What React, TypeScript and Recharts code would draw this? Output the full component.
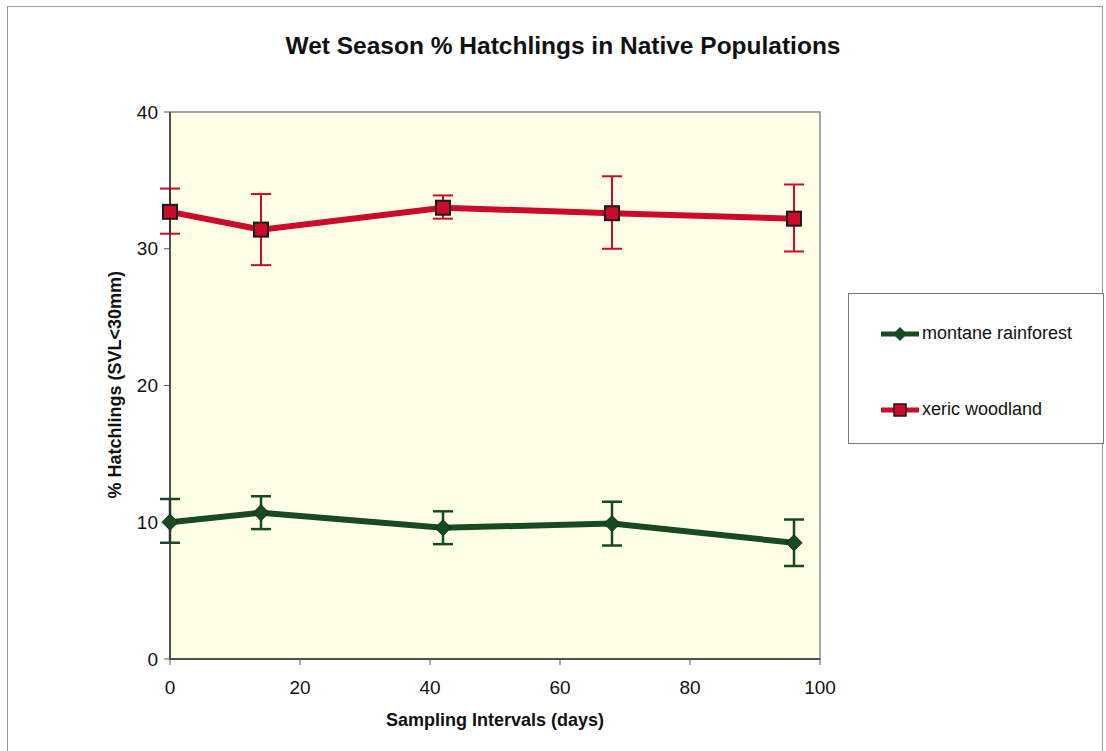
import React from "react";
import {
  ComposedChart,
  Line,
  XAxis,
  YAxis,
  ErrorBar,
  ReferenceArea,
} from "recharts";

const days = [0, 14, 42, 68, 96];
const montane = [10.0, 10.7, 9.6, 9.9, 8.5];
const montaneHigh = [11.7, 11.9, 10.8, 11.5, 10.2];
const montaneLow = [8.5, 9.5, 8.4, 8.3, 6.8];
const xeric = [32.7, 31.4, 33.0, 32.6, 32.2];
const xericHigh = [34.4, 34.0, 33.9, 35.3, 34.7];
const xericLow = [31.1, 28.8, 32.2, 30.0, 29.8];
const xTicks = [0, 20, 40, 60, 80, 100];
const yTicks = [0, 10, 20, 30, 40];

const FONT = "'Liberation Sans', Arial, sans-serif";
const GREEN = "#174a22";
const RED = "#cc0a2a";

const data = days.map((d, i) => ({
  day: d,
  montane: montane[i],
  montaneErr: [montane[i] - montaneLow[i], montaneHigh[i] - montane[i]],
  xeric: xeric[i],
  xericErr: [xeric[i] - xericLow[i], xericHigh[i] - xeric[i]],
}));

const Diamond = (props: any) => {
  const { cx, cy, index } = props;
  const s = 8;
  return (
    <path
      key={`d-${index}`}
      d={`M${cx},${cy - s} L${cx + s},${cy} L${cx},${cy + s} L${cx - s},${cy} Z`}
      fill={GREEN}
      stroke="#0b2a12"
      strokeWidth={1}
    />
  );
};

const Square = (props: any) => {
  const { cx, cy, index } = props;
  const s = 7;
  return (
    <rect
      key={`s-${index}`}
      x={cx - s}
      y={cy - s}
      width={s * 2}
      height={s * 2}
      fill={RED}
      stroke="#1a1a1a"
      strokeWidth={2}
    />
  );
};

const LegendBox = () => (
  <div
    style={{
      position: "absolute",
      left: 848,
      top: 293,
      width: 256,
      height: 151,
      border: "1px solid #777",
      background: "#fff",
      fontFamily: FONT,
      fontSize: 18,
      color: "#111",
      boxSizing: "border-box",
    }}
  >
    <div style={{ position: "absolute", left: 30, top: 29, display: "flex", alignItems: "center" }}>
      <svg width={42} height={20}>
        <line x1={2} y1={10} x2={40} y2={10} stroke={GREEN} strokeWidth={5} />
        <path d="M21,3 L28,10 L21,17 L14,10 Z" fill={GREEN} />
      </svg>
      <span style={{ marginLeft: 1 }}>montane rainforest</span>
    </div>
    <div style={{ position: "absolute", left: 30, top: 105, display: "flex", alignItems: "center" }}>
      <svg width={42} height={20}>
        <line x1={2} y1={10} x2={40} y2={10} stroke={RED} strokeWidth={5} />
        <rect x={15} y={4} width={12} height={12} fill={RED} stroke="#1a1a1a" strokeWidth={1.5} />
      </svg>
      <span style={{ marginLeft: 1 }}>xeric woodland</span>
    </div>
  </div>
);

export default function App() {
  return (
    <div style={{ position: "absolute", left: 0, top: 0, width: 1106, height: 751, background: "#fff" }}>
      <div
        style={{
          position: "absolute",
          left: 7,
          top: 6,
          width: 1096,
          height: 746,
          border: "1px solid #999",
          boxSizing: "border-box",
        }}
      />
      <div
        style={{
          position: "absolute",
          left: 0,
          top: 32,
          width: 1126,
          textAlign: "center",
          fontFamily: FONT,
          fontWeight: "bold",
          fontSize: 24.5,
          color: "#111",
        }}
      >
        Wet Season % Hatchlings in Native Populations
      </div>
      <ComposedChart
        width={1106}
        height={751}
        data={data}
        margin={{ top: 112, right: 286, bottom: 62, left: 110 }}
        style={{ position: "absolute", left: 0, top: 0 }}
      >
        <ReferenceArea
          x1={0}
          x2={100}
          y1={0}
          y2={40}
          fill="#ffffe8"
          fillOpacity={1}
          stroke="#888"
          strokeWidth={1.5}
          ifOverflow="extendDomain"
        />
        <XAxis
          dataKey="day"
          type="number"
          domain={[0, 100]}
          ticks={xTicks}
          axisLine={{ stroke: "#333", strokeWidth: 1.5 }}
          tickLine={{ stroke: "#555" }}
          tickSize={6}
          height={30}
          tick={{ fill: "#111", fontSize: 19, fontFamily: FONT, dy: 14 }}
          label={{
            value: "Sampling Intervals (days)",
            position: "insideBottom",
            dy: 42,
            style: { fontFamily: FONT, fontWeight: "bold", fontSize: 18, fill: "#111" },
          }}
        />
        <YAxis
          type="number"
          domain={[0, 40]}
          ticks={yTicks}
          width={60}
          axisLine={{ stroke: "#333", strokeWidth: 1.5 }}
          tickLine={{ stroke: "#555" }}
          tickSize={6}
          tick={{ fill: "#111", fontSize: 19, fontFamily: FONT, dx: -4 }}
          label={{
            value: "% Hatchlings (SVL<30mm)",
            angle: -90,
            position: "insideLeft",
            dx: 0,
            dy: 113,
            style: { fontFamily: FONT, fontWeight: "bold", fontSize: 18, fill: "#111" },
          }}
        />
        <Line
          dataKey="montane"
          name="montane rainforest"
          stroke={GREEN}
          strokeWidth={6}
          dot={<Diamond />}
          isAnimationActive={false}
        >
          <ErrorBar dataKey="montaneErr" direction="y" width={10} stroke={GREEN} strokeWidth={2.5} />
        </Line>
        <Line
          dataKey="xeric"
          name="xeric woodland"
          stroke={RED}
          strokeWidth={6}
          dot={<Square />}
          isAnimationActive={false}
        >
          <ErrorBar dataKey="xericErr" direction="y" width={10} stroke={RED} strokeWidth={2} />
        </Line>
      </ComposedChart>
      <LegendBox />
    </div>
  );
}
